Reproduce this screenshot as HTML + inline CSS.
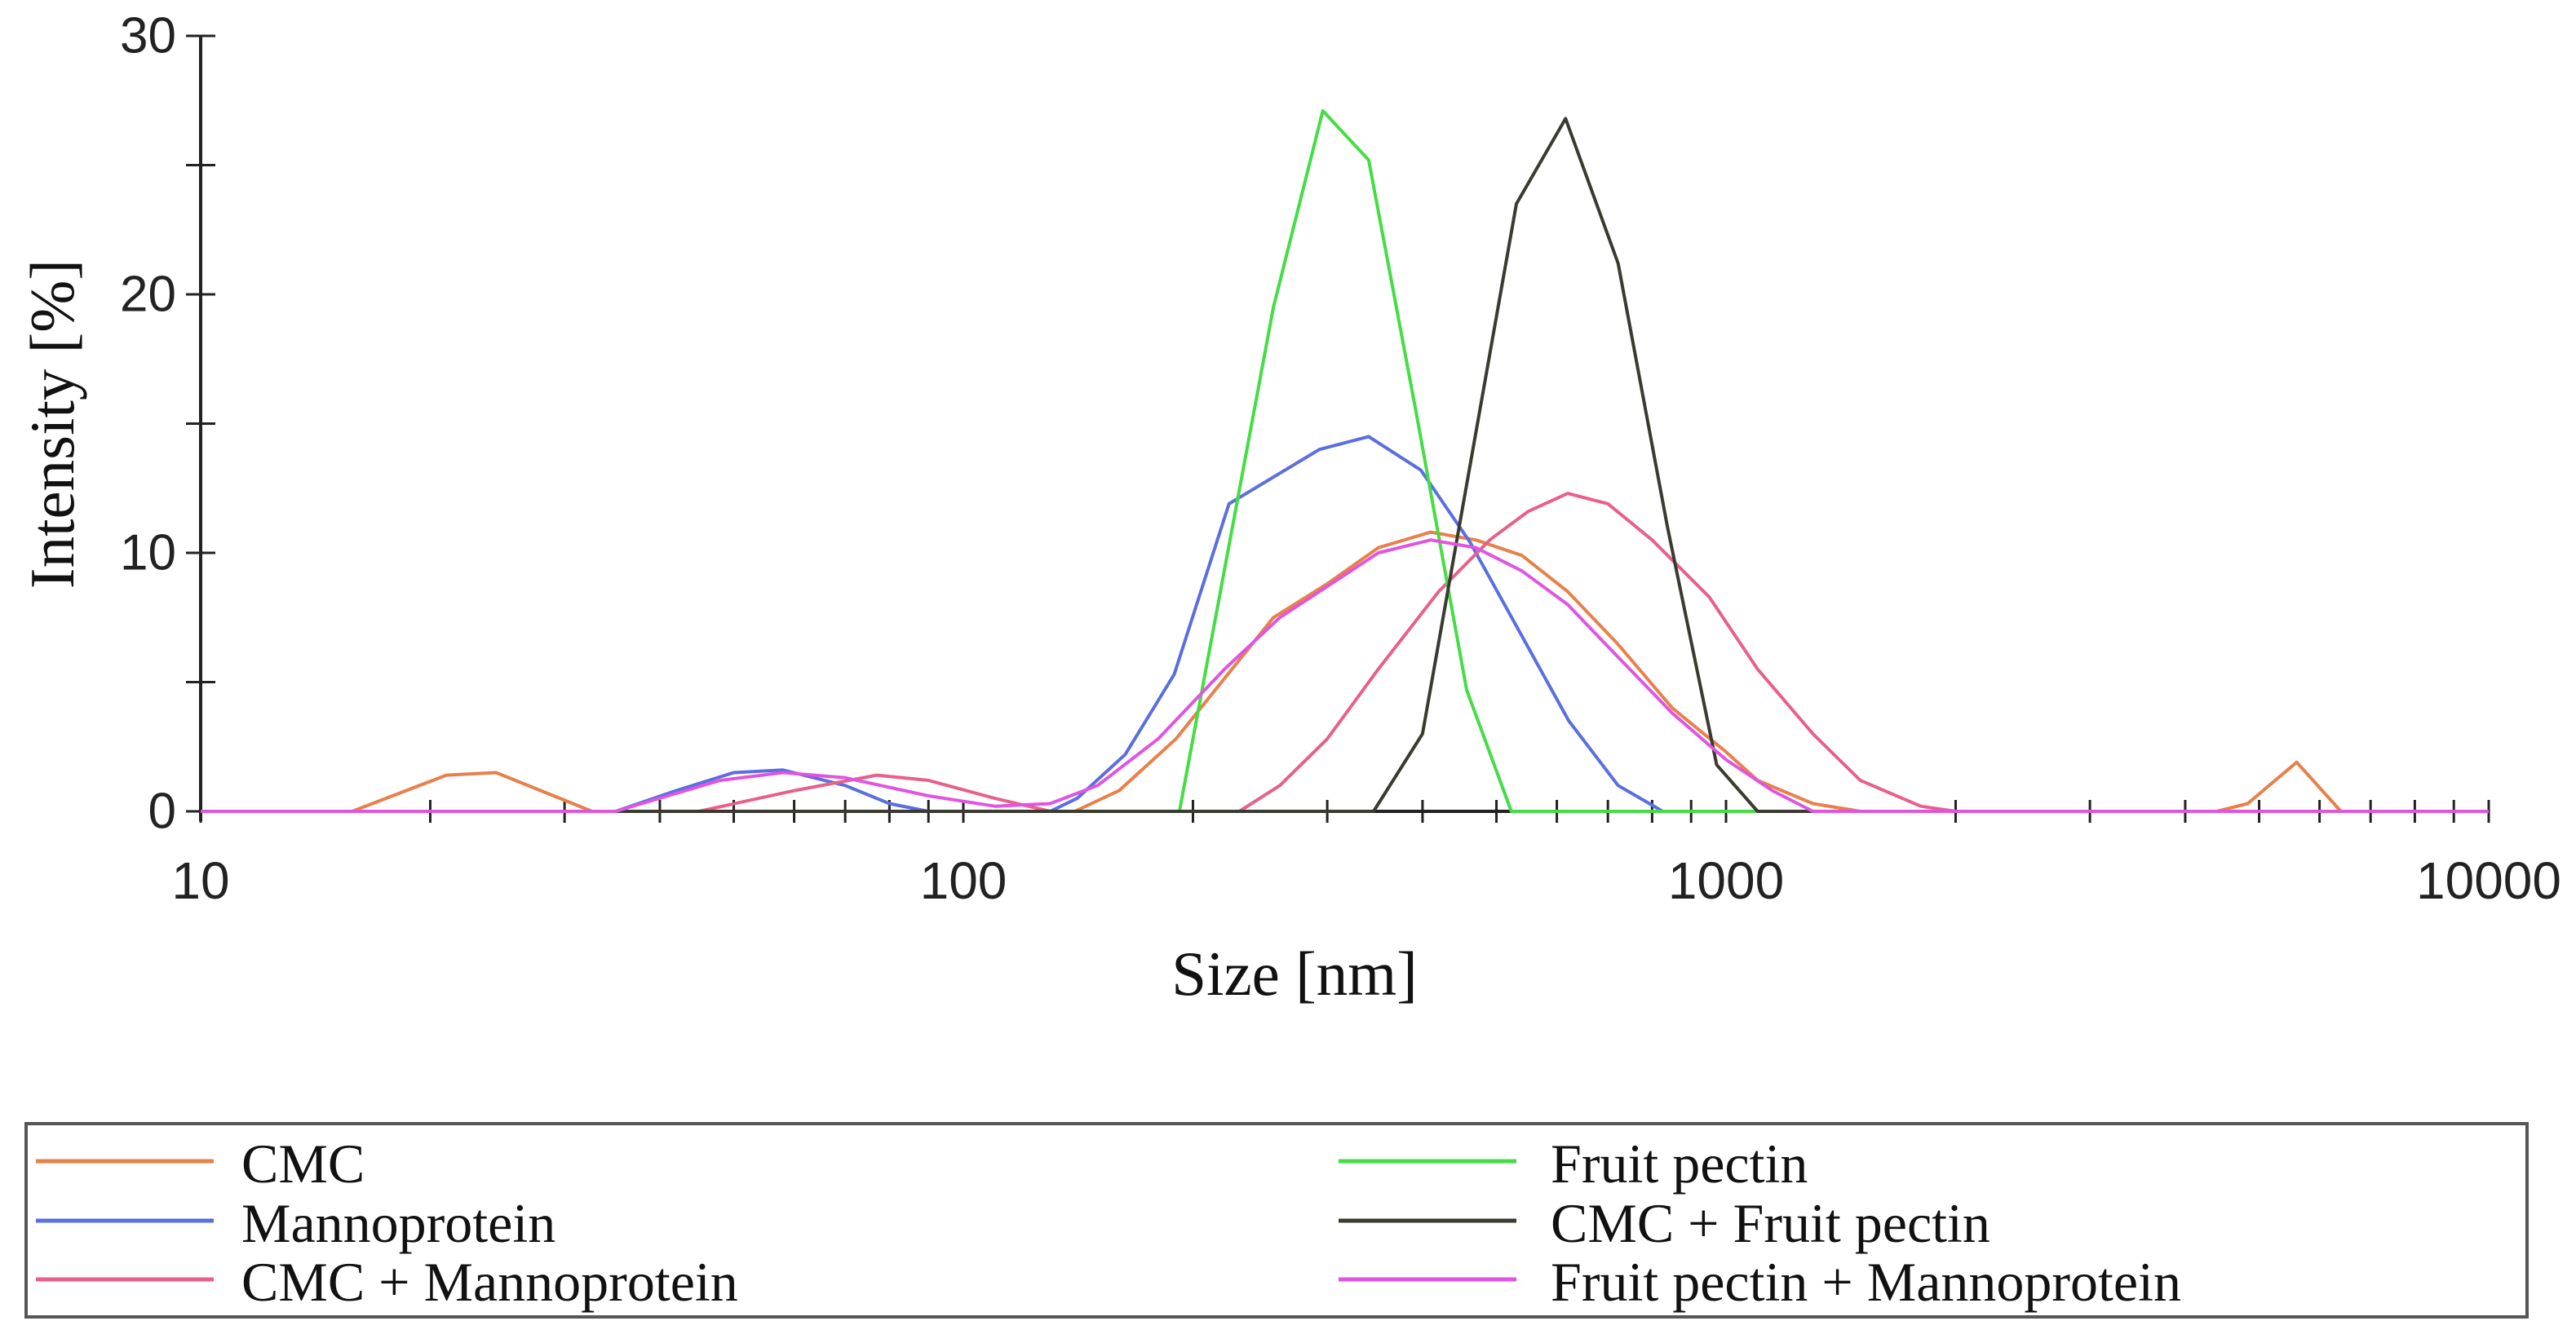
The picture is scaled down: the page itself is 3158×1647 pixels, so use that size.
<!DOCTYPE html>
<html><head><meta charset="utf-8"><style>
html,body{margin:0;padding:0;background:#fff;}
svg{display:block;}
</style></head><body>
<svg id="chart" width="3158" height="1647" viewBox="0 0 3158 1647" xmlns="http://www.w3.org/2000/svg">
<rect x="0" y="0" width="3158" height="1647" fill="#fff"/>
<g id="axes"></g>
<g id="series"></g>
<text x="64" y="520" transform="rotate(-90 64 520)" text-anchor="middle" dominant-baseline="central" font-family="Liberation Serif, serif" font-size="77" fill="#111">Intensity [%]</text>
<text x="1587" y="1220" text-anchor="middle" font-family="Liberation Serif, serif" font-size="77" fill="#111">Size [nm]</text>
<rect x="32" y="1378" width="3066" height="237" fill="#fff" stroke="#555" stroke-width="4"/>
<g id="legend"></g>
</svg>
<script>
const seriesNames = ["CMC","Mannoprotein","CMC + Mannoprotein","Fruit pectin","CMC + Fruit pectin","Fruit pectin + Mannoprotein"];
const seriesColors = ["#e8804a","#5a6ee0","#e8608a","#44dd44","#3a3a30","#e055e0"];
const yTicks = [0,10,20,30];
const xTicks = [10,100,1000,10000];
const cmcX = [10,15.8,21,24.4,32.6,140,160,190,255,300,350,410,470,540,620,720,850,1000,1100,1300,1500,4400,4830,5600,6400,10000];
const cmcY = [0,0,1.4,1.5,0,0,0.8,2.8,7.5,8.8,10.2,10.8,10.5,9.9,8.5,6.5,4,2.3,1.2,0.3,0,0,0.3,1.9,0,0];
const mannoX = [10,35,42,50,58,70,80,90,130,141,163,189,223,293,340,398,462,622,722,826,10000];
const mannoY = [0,0,0.8,1.5,1.6,1,0.3,0,0,0.5,2.2,5.3,11.9,14,14.5,13.2,10.4,3.5,1,0,0];
const cmcMannoX = [10,45,60,77,90,110,130,230,260,300,350,420,490,550,620,700,800,950,1100,1300,1500,1800,2000,10000];
const cmcMannoY = [0,0,0.8,1.4,1.2,0.5,0,0,1,2.8,5.5,8.5,10.5,11.6,12.3,11.9,10.5,8.3,5.5,3,1.2,0.2,0,0];
const pectinX = [10,192,255,296,340,392,457,523,10000];
const pectinY = [0,0,19.5,27.1,25.2,15.5,4.7,0,0];
const cmcPectinX = [10,345,400,531,616,722,838,972,1100,10000];
const cmcPectinY = [0,0,3,23.5,26.8,21.2,11,1.8,0,0];
const pectinMannoX = [10,35,48,58,70,90,110,130,150,180,220,260,300,350,410,470,540,620,720,850,1000,1150,1300,10000];
const pectinMannoY = [0,0,1.2,1.5,1.3,0.6,0.2,0.3,1,2.8,5.5,7.5,8.7,10,10.5,10.2,9.3,8,6,3.8,2,0.8,0,0];
const allX = [cmcX,mannoX,cmcMannoX,pectinX,cmcPectinX,pectinMannoX];
const allY = [cmcY,mannoY,cmcMannoY,pectinY,cmcPectinY,pectinMannoY];

const NS="http://www.w3.org/2000/svg";
const X0=246,X1=3051,Y0=995,Y1=44;
function xs(v){return X0+(Math.log10(v)-1)/3*(X1-X0);}
function ys(v){return Y0-v/30*(Y0-Y1);}
function mk(tag,attrs,parent){const e=document.createElementNS(NS,tag);for(const k in attrs)e.setAttribute(k,attrs[k]);parent.appendChild(e);return e;}
const axes=document.getElementById('axes');
let e=mk('line',{x1:X0,y1:Y1,x2:X0,y2:Y0+12,stroke:'#222','stroke-width':4},axes);


e=mk('line',{x1:X0,y1:Y0,x2:X1,y2:Y0,stroke:'#222','stroke-width':4},axes);


for(let v=0;v<=30;v+=5){
  e=mk('line',{x1:X0-18,y1:ys(v),x2:X0+18,y2:ys(v),stroke:'#222','stroke-width':3},axes);
  
  
}
yTicks.forEach(v=>{
  e=mk('text',{x:X0-30,y:ys(v),'text-anchor':'end','dominant-baseline':'central','font-family':'Liberation Sans, sans-serif','font-size':62,fill:'#222'},axes);
  e.textContent=v;
  
  
});
for(let d=10;d<10000;d*=10){for(let m=1;m<=10;m++){
  const v=d*m;
  e=mk('line',{x1:xs(v),y1:Y0-14,x2:xs(v),y2:Y0+14,stroke:'#222','stroke-width':3},axes);
  
  
}}
xTicks.forEach(v=>{
  e=mk('text',{x:xs(v),y:1102,'text-anchor':'middle','font-family':'Liberation Sans, sans-serif','font-size':64,fill:'#222'},axes);
  e.textContent=v;
  
  
});
const sg=document.getElementById('series');
allX.forEach((xa,i)=>{
  const pts=xa.map((x,j)=>xs(x).toFixed(1)+','+ys(allY[i][j]).toFixed(1)).join(' ');
  e=mk('polyline',{points:pts,fill:'none',stroke:seriesColors[i],'stroke-width':4,'stroke-linejoin':'round'},sg);
  
  
});
const lg=document.getElementById('legend');
const rowsY=[1424,1497,1569];
seriesNames.forEach((n,i)=>{
  const col=Math.floor(i/3),row=i%3;
  const lx=col?1641:44,tx=col?1901:296;
  e=mk('line',{x1:lx,y1:rowsY[row],x2:lx+218,y2:rowsY[row],stroke:seriesColors[i],'stroke-width':5},lg);
  
  
  e=mk('text',{x:tx,y:rowsY[row]+3,'dominant-baseline':'central','font-family':'Liberation Serif, serif','font-size':68,fill:'#111'},lg);
  e.textContent=n;
  
  
});
</script>
</body></html>
